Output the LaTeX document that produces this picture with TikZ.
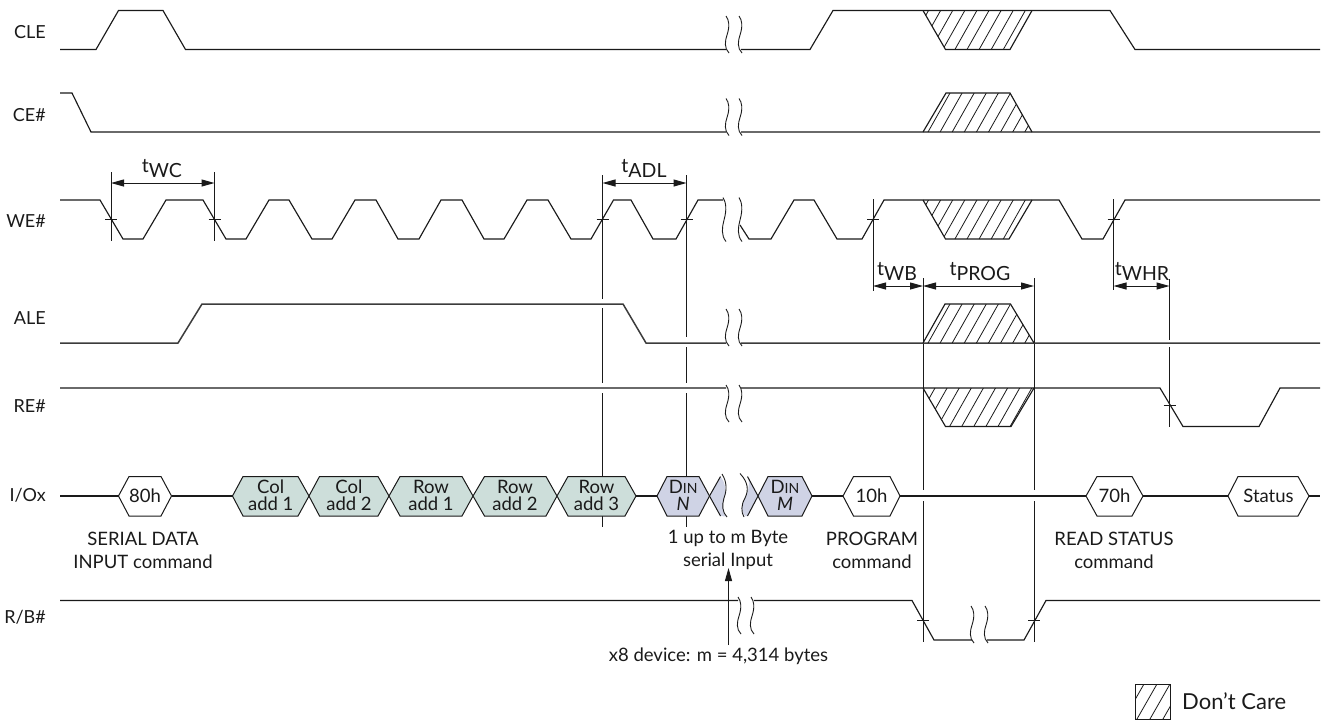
\documentclass[tikz,border=0pt]{standalone}
\usepackage{fontspec}
\setmainfont{Lato}
\usetikzlibrary{arrows.meta}
\definecolor{ink}{HTML}{1A1A1A}
\definecolor{tealfill}{HTML}{CDDEDA}
\definecolor{bluefill}{HTML}{CFD3E5}
\tikzset{
  sig/.style={draw=ink,line width=1.15pt,line join=miter},
  sigheavy/.style={draw=ink!85,line width=1.5pt,line join=miter},
  guide/.style={draw=ink,line width=1.0pt},
  tickmark/.style={draw=ink,line width=0.9pt},
  halo/.style={draw=white,line width=1.6pt},
  hatchline/.style={draw=ink,line width=0.8pt},
  wave/.style={draw=ink,line width=0.9pt},
  dimline/.style={draw=ink,line width=1.0pt,{Triangle[length=13pt,width=7pt]}-{Triangle[length=13pt,width=7pt]}},
  lab/.style={inner sep=0pt,font=\fontsize{18}{20}\selectfont,text=ink},
  siglab/.style={lab,anchor=east},
  timing/.style={lab,anchor=base,font=\fontsize{19.5}{21}\selectfont},
  hexbox/.style={draw=ink,line width=1.0pt},
  hextext/.style={lab,align=center,font=\fontsize{18.5}{16.5}\selectfont},
  captext/.style={lab,align=center,font=\fontsize{18.5}{23}\selectfont}
}
% break mark: x, top y, height
\newcommand{\brk}[3]{\draw[wave,shift={(#1,#2)},yscale=#3/37] (0,0) .. controls (3,4) and (4,10) .. (1,19) .. controls (-1,25) and (-2,32) .. (3,37);}
% hatch: trapezoid corners, top y, bottom y, first top x of hatch line
\newcommand{\hatchfill}[6]{\begin{scope}\clip #1;\foreach \k in {0,...,12}{\draw[hatchline] ({#4+12.1*\k},#2) -- ({#4+12.1*\k-22*(#3-#2)/39},#3);}\end{scope}}
% hexagon: name, x1 x2 x3 x4, fill, text
\newcommand{\hexa}[7]{\draw[hexbox,fill=#6] (#2,496) -- (#3,476.5) -- (#4,476.5) -- (#5,496) -- (#4,516) -- (#3,516) -- cycle;
  \coordinate (#1-l) at (#2,496);\coordinate (#1-r) at (#5,496);
  \node[hextext] (#1) at ({(#2+#5)/2},495.5) {#7};}
\newcommand{\timelabel}[1]{t\raisebox{-5pt}{#1}}
\begin{document}
\begin{tikzpicture}[x=1pt,y=-1pt]
\useasboundingbox (0,0) rectangle (1323,721);
% guides
\coordinate (wc1t) at (111,172);\coordinate (wc1b) at (111,241);
\coordinate (wc2t) at (214.5,172);\coordinate (wc2b) at (214.5,241);
\coordinate (ad1t) at (602.5,175);\coordinate (ad1b) at (602.5,527);
\coordinate (ad2t) at (686.5,175);\coordinate (ad2b) at (686.5,527);
\coordinate (wbt) at (873,199);\coordinate (wbb) at (873,291);
\coordinate (p1t) at (923,278);\coordinate (p1b) at (923,642);
\coordinate (p2t) at (1034,278);\coordinate (p2b) at (1034,642);
\coordinate (wh1t) at (1113.5,199);\coordinate (wh1b) at (1113.5,290);
\coordinate (wh2t) at (1169.5,279);\coordinate (wh2b) at (1169.5,427);
\foreach \a/\b in {wc1t/wc1b,wc2t/wc2b,ad1t/ad1b,ad2t/ad2b,wbt/wbb,p1t/p1b,p2t/p2b,wh1t/wh1b,wh2t/wh2b}
  \draw[guide] (\a) -- (\b);
% gaps where signals cross guides
\foreach \x/\a/\b in {602.5/299/308,602.5/383/393,686.5/337/347,686.5/383/393,923/490/501,1034/490/501,1169.5/340/347}
  \draw[halo,line width=3pt] (\x,\a) -- (\x,\b);
% ticks
\foreach \x/\y in {111/219.5,214.5/219.5,602.5/219.5,686.5/219.5,873/219.5,1113.5/219.5,1169.5/405,923/620,1034/620}
  \draw[tickmark] (\x-6,\y) -- (\x+6,\y);
% dimension arrows
\draw[dimline] (111,183) -- (214.5,183);
\draw[dimline] (602.5,183) -- (686.5,183);
\draw[dimline] (873,286) -- (923,286);
\draw[dimline] (923,286) -- (1034,286);
\draw[dimline] (1113.5,286) -- (1169.5,286);
\node[timing] (twc) at (162,172.5) {\timelabel{WC}};
\node[timing] (tadl) at (644,172.5) {\timelabel{ADL}};
\node[timing] (twb) at (897,275) {\timelabel{WB}};
\node[timing] (tprog) at (980,275) {\timelabel{PROG}};
\node[timing] (twhr) at (1142,275) {\timelabel{WHR}};
% CLE
\draw[sig] (60,49.5) -- (96,49.5) -- (118.5,10.5) -- (163,10.5) -- (185.5,49.5) -- (726,49.5)
  (741,49.5) -- (810,49.5) -- (833,10.5) -- (1110,10.5) -- (1135,49.5) -- (1320,49.5);
\hatchfill{(923,10.5) -- (1032,10.5) -- (1010,49.5) -- (945.5,49.5) -- cycle}{10.5}{49.5}{928.5}{}{}
\draw[sig] (923,10.5) -- (945.5,49.5) -- (1010,49.5) -- (1032,10.5);
\brk{726}{16}{37}\brk{739}{16}{37}
% CE#
\draw[sig] (60,93) -- (72,93) -- (91,132) -- (726,132) (741,132) -- (1320,132);
\hatchfill{(923,132) -- (946,93) -- (1010,93) -- (1032,132) -- cycle}{93}{132}{950}{}{}
\draw[sig] (923,132) -- (946,93) -- (1010,93) -- (1032,132);
\brk{726}{98.5}{37}\brk{739}{98.5}{37}
% WE#
\draw[sig] (60,200) -- (100,200) -- (123,239) -- (143,239) -- (166,200) -- (203,200) -- (226,239) -- (246,239) -- (269,200) -- (289,200) -- (312,239) -- (332,239) -- (355,200) -- (376,200) -- (398,239) -- (419,239) -- (441,200) -- (462,200) -- (484,239) -- (504,239) -- (527,200) -- (548,200) -- (571,239) -- (591,239) -- (613.5,200) -- (631,200) -- (653,239) -- (676,239) -- (698,200) -- (723,200);
\draw[sig] (740,225) -- (749,239) -- (771,239) -- (794,200) -- (814,200) -- (837,239) -- (862,239) -- (884,200) -- (1059,200) -- (1082,239) -- (1103,239) -- (1125,200) -- (1320,200);
\hatchfill{(923,200) -- (1032,200) -- (1009,239) -- (945.5,239) -- cycle}{200}{239}{928.5}{}{}
\draw[sig] (923,200) -- (945.5,239) -- (1009,239) -- (1032,200);
\brk{723}{197.5}{44}\brk{739}{197.5}{44}
% ALE
\draw[sigheavy] (60,343) -- (178,343) -- (202,304) -- (623,304) -- (646,343) -- (726,343) (741,343) -- (1320,343);
\hatchfill{(923,343) -- (945,304) -- (1010.5,304) -- (1034,343) -- cycle}{304}{343}{950}{}{}
\draw[sig] (923,343) -- (945,304) -- (1010.5,304) -- (1034,343);
\brk{726}{309}{37}\brk{739}{309}{37}
% RE#
\draw[sig] (60,388) -- (726,388) (741,388) -- (1160,388) -- (1183,426.5) -- (1259,426.5) -- (1280,388) -- (1320,388);
\hatchfill{(923,388) -- (1034,388) -- (1011,426.5) -- (945.5,426.5) -- cycle}{388}{426.5}{935}{}{}
\draw[sig] (923,388) -- (945.5,426.5) -- (1011,426.5) -- (1034,388);
\brk{726}{385}{37}\brk{739}{385}{37}
% I/Ox
\coordinate (ioa) at (60,496);\coordinate (ioz) at (1320,496);
\hexa{h80}{118.5}{129}{161}{171.5}{white}{80h}
\hexa{col1}{232.5}{243}{298}{309}{tealfill}{Col\\add 1}
\hexa{col2}{309}{319.5}{378}{389}{tealfill}{Col\\add 2}
\hexa{row1}{389}{400}{462}{473}{tealfill}{Row\\add 1}
\hexa{row2}{473}{484.5}{546}{557}{tealfill}{Row\\add 2}
\hexa{row3}{557}{568}{625}{636}{tealfill}{Row\\add 3}
\hexa{dinn}{657}{667}{699}{709.5}{bluefill}{D{\fontsize{14}{15}\selectfont IN}\\\textit{N}}
\hexa{dinm}{758}{768}{802}{812}{bluefill}{D{\fontsize{14}{15}\selectfont IN}\\\textit{M}}
\hexa{h10}{843}{853.5}{890}{900}{white}{10h}
\hexa{h70}{1086}{1097}{1132}{1143}{white}{70h}
\hexa{stat}{1228}{1238}{1298}{1309}{white}{Status}
\foreach \a/\b in {ioa/h80-l,h80-r/col1-l,row3-r/dinn-l,dinm-r/h10-l,h10-r/h70-l,h70-r/stat-l,stat-r/ioz}
  \draw[sig] (\a) -- (\b);
% torn data segments
\fill[bluefill] (709.5,496) -- (720.5,476.5) .. controls (725,482) and (727,490) .. (724,498) .. controls (722,505) and (722,512) .. (726,516.5) -- (720.5,516) -- cycle;
\draw[hexbox] (720.5,516) -- (709.5,496) -- (720.5,476.5);
\draw[wave] (722,474) .. controls (727,482) and (727,490) .. (724,498) .. controls (722,505) and (722,512) .. (727,517);
\fill[bluefill] (758,496) -- (747.5,476.5) .. controls (750,482) and (749,490) .. (745,498) .. controls (741,505) and (741,512) .. (745,516) -- (747.5,516) -- cycle;
\draw[hexbox] (747.5,516) -- (758,496) -- (747.5,476.5);
\draw[wave] (740,473.5) .. controls (748,482) and (749,490) .. (745,498) .. controls (741,505) and (741,512) .. (744,517);
% R/B#
\draw[sig] (60,600.5) -- (738,600.5) (754,600.5) -- (912,600.5) -- (934,640) -- (972,640) (987,640) -- (1024,640) -- (1046,600.5) -- (1320,600.5);
\brk{738}{597}{37}\brk{751}{597}{37}
\brk{971}{606}{37}\brk{985}{606}{37}
% signal names
\node[siglab] (cle) at (46,32) {CLE};
\node[siglab] (ce) at (46,115) {CE\#};
\node[siglab] (we) at (46,221) {WE\#};
\node[siglab] (ale) at (46,318) {ALE};
\node[siglab] (re) at (46,406) {RE\#};
\node[siglab] (io) at (46,495) {I/Ox};
\node[siglab] (rb) at (46,617) {R/B\#};
% captions
\node[captext] (c1) at (143,550) {SERIAL DATA\\INPUT command};
\node[captext] (c2) at (728,550) {1 up to m Byte\\serial Input};
\node[captext] (c3) at (872,550) {PROGRAM\\command};
\node[captext] (c4) at (1114,550) {READ STATUS\\command};
\node[lab,font=\fontsize{18.5}{20}\selectfont] (c5) at (718.5,656) {x8 device: m = 4,314 bytes};
\coordinate (arrfoot) at (728.5,645);\coordinate (arrtip) at (728.5,568);
\draw[draw=ink,line width=1.0pt,-{Triangle[length=13pt,width=7pt]}] (arrfoot) -- (arrtip);
% legend
\begin{scope}
\clip (1135,684) rectangle (1170,719);
\foreach \x in {1144,1157,1170,1183} \draw[hatchline] (\x,684) -- (\x-20,719);
\end{scope}
\draw[hexbox] (1135,684) rectangle (1170,719);
\node[lab,anchor=west,font=\fontsize{22}{24}\selectfont] (dc) at (1182,701) {Don’t Care};
\end{tikzpicture}
\end{document}
